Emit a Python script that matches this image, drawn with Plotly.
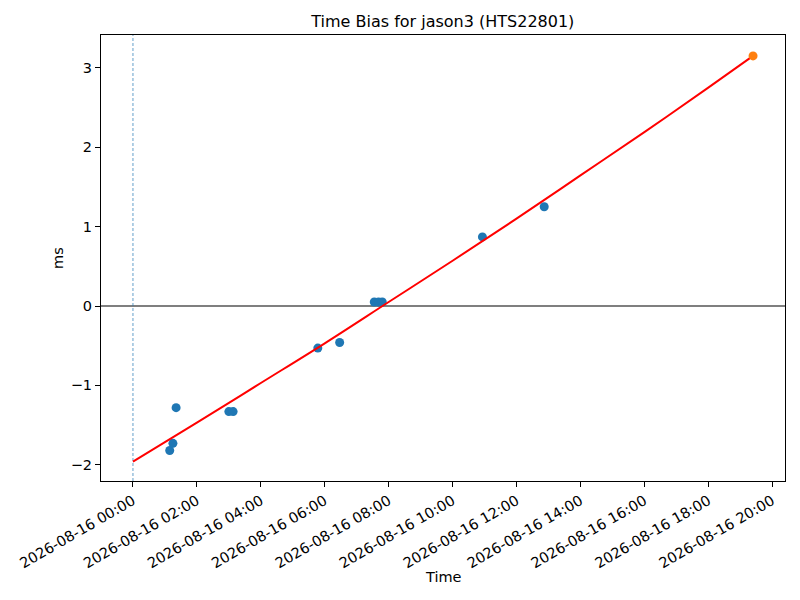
import plotly.graph_objects as go

# measured time bias samples
obs_times = [
    "2026-08-16 01:09", "2026-08-16 01:15", "2026-08-16 01:21",
    "2026-08-16 03:00", "2026-08-16 03:08",
    "2026-08-16 05:47", "2026-08-16 06:28",
    "2026-08-16 07:33", "2026-08-16 07:41", "2026-08-16 07:48",
    "2026-08-16 10:56", "2026-08-16 12:52",
]
obs_bias = [-1.82, -1.73, -1.28, -1.33, -1.33, -0.53, -0.46,
            0.05, 0.05, 0.05, 0.87, 1.25]

# predicted point
pred_time = ["2026-08-16 19:24"]
pred_bias = [3.15]

# fitted curve
fit_times = [
    "2026-08-16 00:00", "2026-08-16 02:00", "2026-08-16 04:00",
    "2026-08-16 06:00", "2026-08-16 08:00", "2026-08-16 10:00",
    "2026-08-16 12:00", "2026-08-16 14:00", "2026-08-16 16:00",
    "2026-08-16 18:00", "2026-08-16 19:24",
]
fit_bias = [-1.96, -1.47, -0.97, -0.47, 0.05, 0.57, 1.10, 1.645, 2.19, 2.75, 3.15]

epoch = "2026-08-16 00:00"

fig = go.Figure()
fig.add_trace(go.Scatter(x=obs_times, y=obs_bias, mode="markers",
                         marker=dict(color="#1f77b4", size=9)))
fig.add_trace(go.Scatter(x=fit_times, y=fit_bias, mode="lines",
                         line=dict(color="red", width=2, shape="spline")))
fig.add_trace(go.Scatter(x=pred_time, y=pred_bias, mode="markers",
                         marker=dict(color="#ff7f0e", size=9)))

fig.add_hline(y=0, line=dict(color="black", width=1.2), layer="below")
fig.add_vline(x=epoch, line=dict(color="#1f77b4", width=0.7, dash="3px,2px"),
              layer="below")

axis_style = dict(showline=True, mirror=True, linecolor="black", linewidth=1,
                  ticks="outside", ticklen=5, tickcolor="black", showgrid=False,
                  zeroline=False, automargin=False,
                  tickfont=dict(size=14.5, color="black"))

# the page body adds an 8px offset, so the figure is sized to fit the window
fig.update_layout(
    width=792, height=592,
    margin=dict(l=93, r=15, t=27, b=119),
    paper_bgcolor="white", plot_bgcolor="white",
    showlegend=False,
    font=dict(family="DejaVu Sans", color="black"),
    title=dict(text="Time Bias for jason3 (HTS22801)", x=0.549, xanchor="center",
               y=0.978, yanchor="middle", font=dict(size=16)),
)
# axis titles placed as annotations to match the original spacing
fig.add_annotation(text="Time", xref="paper", yref="paper", x=0.5, y=-0.215,
                   xanchor="center", yanchor="middle", showarrow=False,
                   font=dict(size=14.5))
fig.add_annotation(text="ms", xref="paper", yref="paper", x=-0.063, y=0.5,
                   xanchor="center", yanchor="middle", showarrow=False,
                   textangle=-90, font=dict(size=14.5))

fig.update_xaxes(axis_style, type="date",
                 range=["2026-08-15 23:00", "2026-08-16 20:24"],
                 tick0=epoch, dtick=7200000, tickformat="%Y-%m-%d %H:%M",
                 tickangle=-30)
fig.update_yaxes(axis_style, range=[-2.204, 3.413], dtick=1, tick0=0)

fig.write_html("out.html")
